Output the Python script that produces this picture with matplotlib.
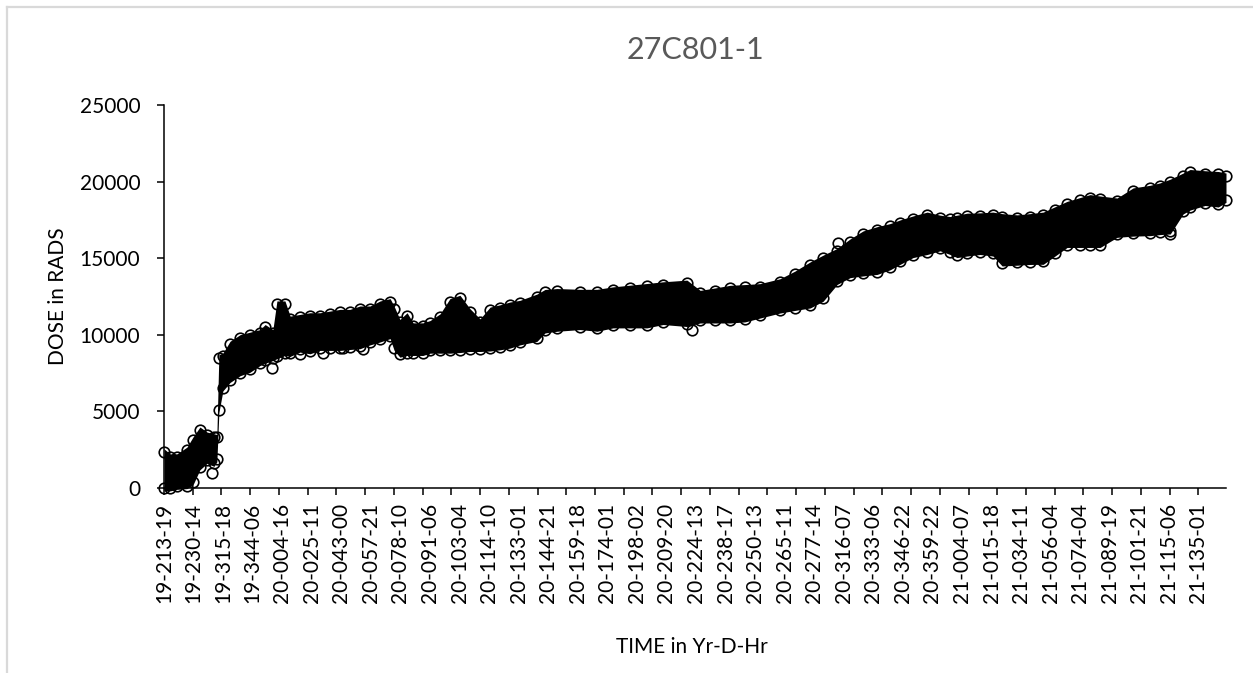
import numpy as np
import matplotlib
matplotlib.use("Agg")
import matplotlib.pyplot as plt
from matplotlib.lines import Line2D

plt.rcParams['font.family'] = ['Lato', 'DejaVu Sans']

# ---------------- data ----------------
title = "27C801-1"
x_title = "TIME in Yr-D-Hr"
y_title = "DOSE in RADS"

tick_labels = [
    "19-213-19", "19-230-14", "19-315-18", "19-344-06", "20-004-16", "20-025-11",
    "20-043-00", "20-057-21", "20-078-10", "20-091-06", "20-103-04", "20-114-10",
    "20-133-01", "20-144-21", "20-159-18", "20-174-01", "20-198-02", "20-209-20",
    "20-224-13", "20-238-17", "20-250-13", "20-265-11", "20-277-14", "20-316-07",
    "20-333-06", "20-346-22", "20-359-22", "21-004-07", "21-015-18", "21-034-11",
    "21-056-04", "21-074-04", "21-089-19", "21-101-21", "21-115-06", "21-135-01",
]

# position along the time axis, in tick intervals
pos = [
    0.00, 0.21, 0.45, 0.80, 1.01, 1.25, 1.50, 1.74, 1.84, 1.91,
    2.05, 2.30, 2.65, 2.99, 3.34, 3.52, 3.79, 3.93, 4.21, 4.39,
    4.73, 5.08, 5.43, 5.78, 6.13, 6.47, 6.82, 7.17, 7.52, 7.87,
    8.01, 8.21, 8.46, 8.67, 9.01, 9.26, 9.61, 9.95, 10.30, 10.65,
    11.00, 11.35, 11.70, 12.04, 12.39, 12.98, 13.26, 13.68, 14.48, 15.07,
    15.63, 16.22, 16.81, 17.37, 18.20, 18.66, 19.18, 19.70, 20.22, 20.74,
    21.44, 21.96, 22.49, 22.94, 23.43, 23.88, 24.33, 24.82, 25.27, 25.62,
    26.07, 26.56, 27.01, 27.36, 27.60, 27.95, 28.40, 28.85, 29.17, 29.69,
    30.14, 30.60, 31.01, 31.43, 31.88, 32.23, 32.58, 33.17, 33.73, 34.32,
    34.67, 35.02, 35.47, 35.71, 36.23, 36.69, 36.96,
]

# upper edge of the dose readings at each position
dose_hi = [
    2370, 2040, 2040, 2480, 3140, 3790, 3460, 3350, 3300, 8510,
    8620, 9390, 9820, 9980, 10150, 10480, 10150, 12020, 12020, 11030,
    11140, 11250, 11250, 11360, 11470, 11470, 11690, 11690, 12020, 12170,
    11670, 10810, 11250, 10590, 10590, 10740, 11180, 12170, 12390, 11510,
    10850, 11620, 11770, 11950, 12060, 12470, 12770, 12830, 12780, 12780,
    12940, 13050, 13160, 13270, 13380, 12710, 12870, 13040, 13090, 13150,
    13470, 13970, 14570, 15010, 15450, 16070, 16590, 16870, 17070, 17310,
    17570, 17820, 17620, 17530, 17620, 17750, 17770, 17820, 17720, 17640,
    17720, 17820, 18170, 18520, 18770, 18960, 18870, 18740, 19400, 19570,
    19730, 19970, 20370, 20600, 20520, 20470, 20370,
]

# lower edge of the dose readings at each position
dose_lo = [
    0, 0, 100, 150, 400, 1380, 1800, 1600, 1900, 5110,
    6530, 7080, 7520, 7740, 8180, 8330, 8510, 8630, 8840, 8780,
    9060, 8950, 9170, 9170, 9170, 9230, 9280, 9530, 9720, 9940,
    9170, 8730, 8840, 8840, 8840, 8990, 8990, 8990, 9030, 9100,
    9100, 9130, 9210, 9320, 9530, 9760, 10310, 10420, 10530, 10420,
    10640, 10640, 10640, 10860, 10730, 10960, 10960, 10960, 11030, 11280,
    11610, 11780, 11940, 12380, 13480, 13920, 14030, 14130, 14430, 14790,
    15230, 15430, 15670, 15430, 15230, 15330, 15430, 15330, 14680, 14730,
    14780, 14790, 15330, 15890, 15890, 15890, 15890, 16550, 16630, 16660,
    16730, 16770, 18080, 18330, 18630, 18530, 18830,
]

# isolated readings outside the main band
out_pos = [1.67, 3.75, 4.73, 5.54, 6.24, 6.93, 18.37, 23.46, 35.02]
out_dose = [970, 7820, 8720, 8800, 9110, 9050, 10340, 16000, 16550]

y_ticks = [0, 5000, 10000, 15000, 20000, 25000]

# ---------------- figure ----------------
W, H = 1253, 673
fig = plt.figure(figsize=(W / 100, H / 100), dpi=100)
fig.patch.set_facecolor('white')

ax_l, ax_r, ax_t, ax_b = 164, 1226, 105, 488
ax = fig.add_axes([ax_l / W, 1 - ax_b / H, (ax_r - ax_l) / W, (ax_b - ax_t) / H])
ax.set_xlim(0, pos[-1])
ax.set_ylim(0, 25000)

ms = 7.6  # marker size in points
# marker radius expressed in data units of the y axis
r_px = ms / 2 * fig.dpi / 72
r_data = r_px * 25000 / (ax_b - ax_t)
lo_arr = np.asarray(dose_lo, float)
hi_arr = np.asarray(dose_hi, float)
ax.fill_between(pos, lo_arr - 0.55 * r_data, hi_arr + 0.55 * r_data,
                color='black', lw=0, zorder=2, clip_on=False)
mk = dict(linestyle='none', marker='o', mfc='none', mec='black', ms=ms, mew=1.2,
          clip_on=False, zorder=3)
ax.plot(pos, dose_hi, **mk)
ax.plot(pos, dose_lo, **mk)
ax.plot(out_pos, out_dose, **mk)

for s in ('top', 'right'):
    ax.spines[s].set_visible(False)
for s in ('left', 'bottom'):
    ax.spines[s].set_color('black')
    ax.spines[s].set_linewidth(1.1)

ax.set_yticks(y_ticks)
ax.set_yticklabels([str(v) for v in y_ticks])
ax.tick_params(axis='y', direction='out', length=5, width=1.1, pad=12,
               labelsize=15, colors='black')

n_ticks = len(tick_labels) + 1
ax.xaxis.remove_overlapping_locs = False
ax.set_xticks(np.arange(n_ticks))
ax.set_xticklabels([])
ax.tick_params(axis='x', which='major', direction='out', length=5, width=1.1)
ax.set_xticks(np.linspace(0, n_ticks - 1, len(tick_labels)), minor=True)
ax.set_xticklabels(tick_labels, minor=True, rotation=90)
ax.tick_params(axis='x', which='minor', length=0, pad=10.5, labelsize=15,
               colors='black')

ax.set_ylabel(y_title, fontsize=15, color='black')
ax.yaxis.set_label_coords((68 - ax_l) / (ax_r - ax_l), 0.5)

fig.text(692 / W, 1 - 647 / H, x_title, ha='center', va='center',
         fontsize=15, color='black')
fig.text(695 / W, 1 - 50 / H, title, ha='center', va='center',
         fontsize=22, color='#595959')

# light chart border (left and top edges visible)
fig.add_artist(Line2D([6.5 / W, 6.5 / W], [0, 1 - 6.5 / H], transform=fig.transFigure,
                      color='#d9d9d9', lw=1.6))
fig.add_artist(Line2D([6.5 / W, 1], [1 - 6.5 / H, 1 - 6.5 / H], transform=fig.transFigure,
                      color='#d9d9d9', lw=1.6))

fig.savefig('out.png', dpi=100)
